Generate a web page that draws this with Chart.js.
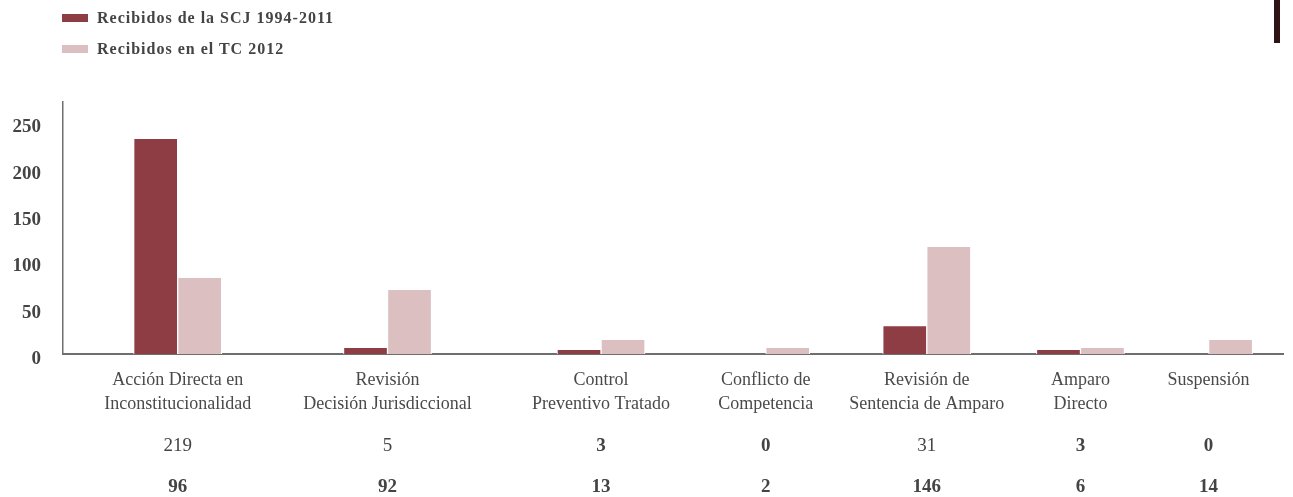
<!DOCTYPE html>
<html>
<head>
<meta charset="utf-8">
<script src="https://cdn.jsdelivr.net/npm/chart.js@4.4.1/dist/chart.umd.min.js"></script>
<style>
  html, body { margin: 0; padding: 0; background: #fff; overflow: hidden; }
  #wrap { position: relative; width: 1293px; height: 497px; }
  #legend { position: absolute; left: 62px; top: 2px; font-family: "Liberation Serif", serif; font-weight: bold; font-size: 16px; letter-spacing: 1px; color: #444; }
  #legend .row { height: 31px; display: flex; align-items: center; white-space: nowrap; }
  #legend .sw { display: inline-block; width: 26px; height: 8px; margin-right: 9px; }
  #mark { position: absolute; left: 1274px; top: 0; width: 6px; height: 43px; background: #2f1315; }
</style>
</head>
<body>
<div id="wrap">
  <canvas id="casos" width="1293" height="497"></canvas>
  <div id="legend"></div>
  <div id="mark"></div>
</div>
<script>
// categorias del eje x
categories = [
  ['Acción Directa en', 'Inconstitucionalidad'],
  ['Revisión', 'Decisión Jurisdiccional'],
  ['Control', 'Preventivo Tratado'],
  ['Conflicto de', 'Competencia'],
  ['Revisión de', 'Sentencia de Amparo'],
  ['Amparo', 'Directo'],
  ['Suspensión']
]
// centro de cada grupo sobre el eje (0-100)
groupX = [9.4, 26.6, 44.1, 57.6, 70.8, 83.4, 93.9]

// alturas de las barras
scjBars = [232, 6.5, 4.3, 0, 30, 4.3, 0]
tcBars = [82, 69, 15, 6.5, 115.5, 6.5, 15]

// filas de cifras debajo de las etiquetas
scjText = ['219', '5', '3', '0', '31', '3', '0']
tcText = ['96', '92', '13', '2', '146', '6', '14']
scjBold = [false, false, true, true, false, true, true]

yTicks = [0, 50, 100, 150, 200, 250]

serif = '"Liberation Serif", "DejaVu Serif", serif'
axisGray = '#6e6e6e'

function toPoints(vals) {
  return vals.map((v, i) => ({ x: groupX[i], y: v }))
}
function setGroupTicks(scale) {
  scale.ticks = groupX.map(v => ({ value: v }))
}

// leyenda en html, generada desde los datasets
htmlLegend = {
  id: 'htmlLegend',
  afterUpdate(chart) {
    const box = document.getElementById('legend')
    box.innerHTML = ''
    chart.options.plugins.legend.labels.generateLabels(chart).forEach(item => {
      const row = document.createElement('div')
      row.className = 'row'
      const sw = document.createElement('span')
      sw.className = 'sw'
      sw.style.background = item.fillStyle
      row.appendChild(sw)
      row.appendChild(document.createTextNode(item.text))
      box.appendChild(row)
    })
  }
}

barBorder = { left: 1, right: 1, top: 0, bottom: 0 }

chartdata = {
  datasets: [{
    label: 'Recibidos de la SCJ 1994-2011',
    data: toPoints(scjBars),
    backgroundColor: '#8e3d45',
    borderColor: '#ffffff',
    borderWidth: barBorder,
    xAxisID: 'x',
    yAxisID: 'y'
  }, {
    label: 'Recibidos en el TC 2012',
    data: toPoints(tcBars),
    backgroundColor: '#dbbfc1',
    borderColor: '#ffffff',
    borderWidth: barBorder,
    xAxisID: 'x',
    yAxisID: 'y'
  }]
}

numberAxis = (texts, pad, h, weight, fontFn) => ({
  type: 'linear',
  axis: 'x',
  position: 'bottom',
  weight: weight,
  min: 0,
  max: 100,
  offset: false,
  grid: { display: false, drawTicks: false },
  border: { display: false },
  afterBuildTicks: setGroupTicks,
  afterFit: s => { s.height = h },
  ticks: {
    autoSkip: false,
    maxRotation: 0,
    padding: pad,
    color: '#444',
    font: fontFn,
    callback: (v, i) => texts[i]
  }
})

config = {
  type: 'bar',
  data: chartdata,
  options: {
    responsive: false,
    animation: false,
    barThickness: 44,
    layout: { padding: { top: 102, right: 10, left: 0, bottom: 0 } },
    plugins: {
      legend: { display: false },
      tooltip: { enabled: false }
    },
    scales: {
      x: {
        type: 'linear',
        position: 'bottom',
        weight: 0,
        z: 1,
        min: 0,
        max: 100,
        offset: false,
        grid: { display: false, drawTicks: false, offset: false },
        border: { display: true, color: axisGray, width: 2 },
        afterBuildTicks: setGroupTicks,
        afterFit: s => { s.height = 76 },
        ticks: {
          autoSkip: false,
          maxRotation: 0,
          padding: 14,
          color: '#4a4a4a',
          font: { family: serif, size: 18, lineHeight: 1.34 },
          callback: (v, i) => categories[i]
        }
      },
      xA: numberAxis(scjText, 4, 32, 1, ctx => ({
        family: serif, size: 19, lineHeight: 1.26,
        weight: scjBold[ctx.index] ? 'bold' : 'normal'
      })),
      xB: numberAxis(tcText, 13, 35, 2, () => ({
        family: serif, size: 19, lineHeight: 1.26, weight: 'bold'
      })),
      y: {
        type: 'linear',
        position: 'left',
        min: 0,
        max: 272,
        grid: { display: false, drawTicks: false },
        border: { display: true, color: axisGray, width: 1.5 },
        afterBuildTicks: s => { s.ticks = yTicks.map(v => ({ value: v })) },
        afterFit: s => { s.width = 63 },
        ticks: {
          padding: 22,
          labelOffset: 5,
          color: '#444',
          font: { family: serif, size: 19, weight: 'bold' }
        }
      }
    }
  },
  plugins: [htmlLegend]
}

var myChart = new Chart(document.getElementById('casos'), config)
</script>
</body>
</html>
